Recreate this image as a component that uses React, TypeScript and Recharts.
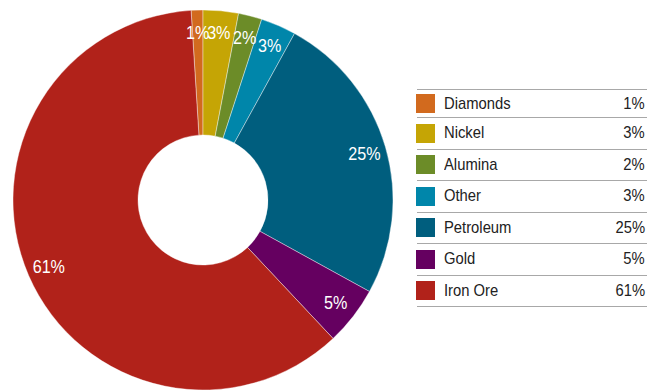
import React from 'react';
import { PieChart, Pie, Cell, Legend } from 'recharts';

const categories = ['Diamonds', 'Nickel', 'Alumina', 'Other', 'Petroleum', 'Gold', 'Iron Ore'];
const shares = [1, 3, 2, 3, 25, 5, 61];
const colors = ['#d26a1e', '#c5a505', '#6c8c28', '#0086aa', '#005e7e', '#650060', '#b1221a'];

const data = categories.map((name, i) => ({ name, value: shares[i] }));

// no condensed face installed, so squeeze Liberation Sans horizontally
const FONT = '"Liberation Sans", Arial, sans-serif';
const SQUEEZE = 0.85;
const RAD = Math.PI / 180;

const renderLabel = (props: any) => {
  const { cx, cy, midAngle, value } = props;
  const r = 168;
  const x = cx + r * Math.cos(-midAngle * RAD);
  const y = cy + r * Math.sin(-midAngle * RAD);
  return (
    <text
      x={0}
      y={0}
      transform={`translate(${x},${y}) scale(${SQUEEZE},1)`}
      fill="#ffffff"
      textAnchor="middle"
      dominantBaseline="central"
      fontFamily={FONT}
      fontSize={19}
    >
      {`${value}%`}
    </text>
  );
};

const squeezed = (origin: string): React.CSSProperties => ({
  display: 'inline-block',
  transform: `scaleX(${SQUEEZE + 0.02})`,
  transformOrigin: origin,
  whiteSpace: 'nowrap',
});

const LegendTable = () => (
  <div style={{ width: 230, fontFamily: FONT, fontSize: 17, color: '#222', borderTop: '1.5px solid #a8a8a8' }}>
    {data.map((d, i) => (
      <div
        key={d.name}
        style={{
          height: i === 0 ? 27 : 30.5,
          borderBottom: '1.5px solid #a8a8a8',
          display: 'flex',
          alignItems: 'center',
        }}
      >
        <span style={{ width: 19, height: 19, background: colors[i], display: 'inline-block', marginLeft: -1 }} />
        <span style={{ marginLeft: 9, flex: 1 }}>
          <span style={squeezed('left center')}>{d.name}</span>
        </span>
        <span style={{ marginRight: 2, ...squeezed('right center') }}>{`${d.value}%`}</span>
      </div>
    ))}
  </div>
);

export default function App() {
  return (
    <div style={{ position: 'absolute', left: 0, top: 0, background: '#fff' }}>
      <PieChart width={647} height={392} margin={{ top: 0, right: 0, bottom: 0, left: 0 }}>
        <Pie
          data={data}
          dataKey="value"
          nameKey="name"
          cx={203}
          cy={200}
          innerRadius={65}
          outerRadius={190}
          startAngle={93.6}
          endAngle={-266.4}
          stroke="#ffffff"
          strokeWidth={0.4}
          label={renderLabel}
          labelLine={false}
          isAnimationActive={false}
        >
          {data.map((d, i) => (
            <Cell key={d.name} fill={colors[i]} />
          ))}
        </Pie>
        <Legend
          layout="vertical"
          verticalAlign="top"
          align="right"
          wrapperStyle={{ left: 417, top: 89, width: 230 }}
          content={() => <LegendTable />}
        />
      </PieChart>
    </div>
  );
}
